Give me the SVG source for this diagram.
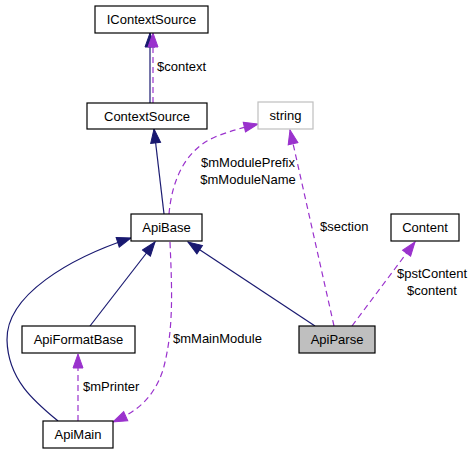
<svg xmlns="http://www.w3.org/2000/svg" width="475" height="456" viewBox="0 0 475 456">
<style>
.n rect{fill:#fff;stroke:#000;stroke-width:1.2}
.n text,.l{font-family:"Liberation Sans",Arial,sans-serif;font-size:13px;fill:#000}
.n text{text-anchor:middle}
.inh{fill:none;stroke:#191970;stroke-width:1.2;marker-end:url(#an)}
.use{fill:none;stroke:#9a32cd;stroke-width:1.2;stroke-dasharray:6,4;marker-end:url(#ap)}
</style>
<defs>
<marker id="an" markerUnits="userSpaceOnUse" markerWidth="16" markerHeight="13" refX="15" refY="6" orient="auto"><path d="M1,1 L15,6 L1,11 z" fill="#191970" stroke="#191970"/></marker>
<marker id="ap" markerUnits="userSpaceOnUse" markerWidth="16" markerHeight="13" refX="15" refY="6" orient="auto"><path d="M1,1 L15,6 L1,11 z" fill="#9a32cd" stroke="#9a32cd"/></marker>
</defs>
<rect width="475" height="456" fill="#fff"/>
<g id="edges">
<path class="inh" d="M150,103 L150,33"/>
<path class="use" d="M153,103 L153,33"/>
<path class="inh" d="M164,214 L154,129"/>
<path class="use" d="M169,214 C172,180 185,150 215,137 C230,131 245,127 258,124"/>
<path class="use" d="M334,326 L290,130"/>
<path class="use" d="M352,326 L415,242"/>
<path class="inh" d="M315,326 L188,242"/>
<path class="inh" d="M90,326 L155,242"/>
<path class="inh" d="M58,421 C35,402 8,380 7,340 C6,295 70,258 131,238"/>
<path class="use" d="M78,421 L78,354"/>
<path class="use" d="M170,242 C172,290 174,330 163,370 C153,400 135,412 113,422"/>
<text class="l" x="157" y="71">$context</text>
<text class="l" x="248" y="167" text-anchor="middle">$mModulePrefix</text>
<text class="l" x="248" y="184" text-anchor="middle">$mModuleName</text>
<text class="l" x="320" y="231">$section</text>
<text class="l" x="432" y="278" text-anchor="middle">$pstContent</text>
<text class="l" x="432" y="295" text-anchor="middle">$content</text>
<text class="l" x="173" y="343">$mMainModule</text>
<text class="l" x="83" y="391">$mPrinter</text>
</g>
<g id="IContextSource" class="n"><rect x="95" y="6" width="113" height="27"/><text x="151.5" y="24">IContextSource</text></g>
<g id="ContextSource" class="n"><rect x="87" y="103" width="120" height="26"/><text x="147" y="121">ContextSource</text></g>
<g id="string" class="n"><rect x="258" y="102" width="55" height="27" style="stroke:#bfbfbf"/><text x="285.5" y="120">string</text></g>
<g id="ApiBase" class="n"><rect x="131" y="214" width="71" height="27"/><text x="166.5" y="232">ApiBase</text></g>
<g id="Content" class="n"><rect x="391" y="214" width="68" height="27"/><text x="425" y="232">Content</text></g>
<g id="ApiFormatBase" class="n"><rect x="22" y="326" width="113" height="27"/><text x="78.5" y="344">ApiFormatBase</text></g>
<g id="ApiParse" class="n"><rect x="299" y="326" width="76" height="27" style="fill:#bfbfbf"/><text x="337" y="344">ApiParse</text></g>
<g id="ApiMain" class="n"><rect x="43" y="421" width="70" height="27"/><text x="78" y="439">ApiMain</text></g>
</svg>
